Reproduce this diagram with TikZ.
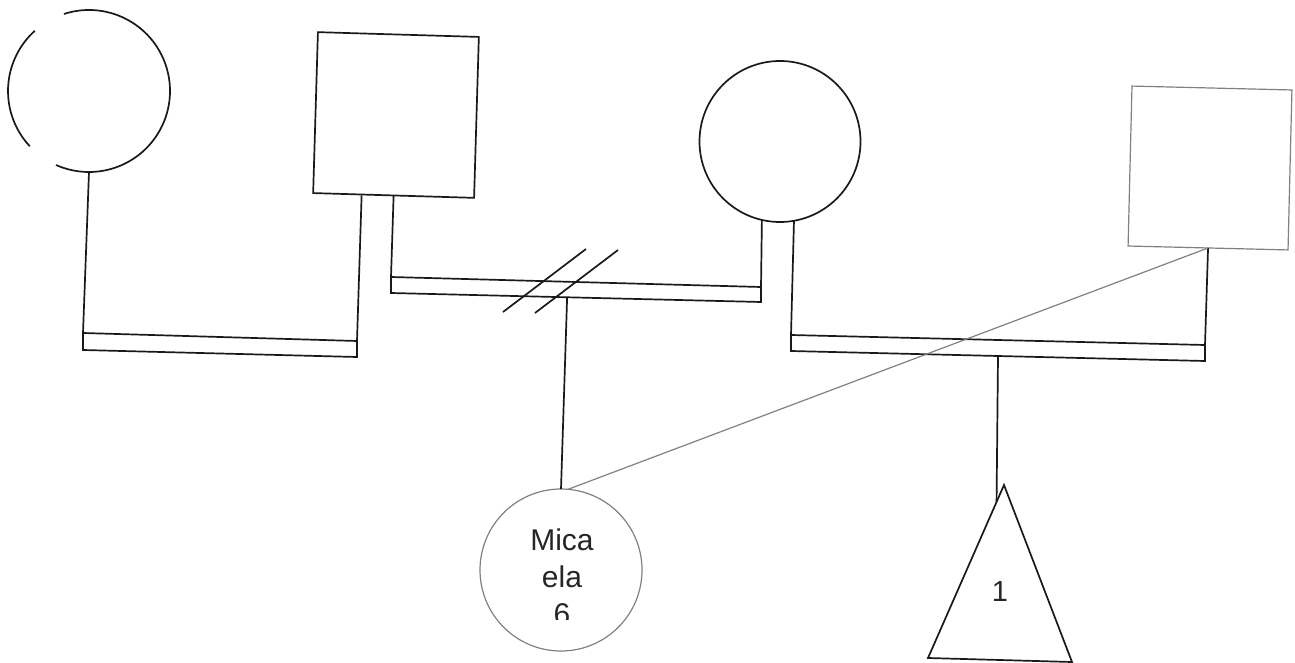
\documentclass[tikz,border=0pt]{standalone}
\usepackage{fontspec}
\setmainfont{Liberation Sans}
\usetikzlibrary{calc}
\begin{document}
\begin{tikzpicture}[x=1pt,y=1pt,yscale=-1,
  blk/.style={line width=1.7pt, draw=black!90},
  gry/.style={line width=1.2pt, draw=black!50},
  sq/.style={rectangle, minimum size=161pt, inner sep=0pt, outer sep=0pt},
  cir/.style={circle, inner sep=0pt, outer sep=0pt},
  lbl/.style={font=\fontsize{30}{37}\selectfont, text=black!85, align=center, inner sep=0pt}]
\useasboundingbox (0,0) rectangle (1295,663);
% first generation, left couple
\node[cir, minimum size=162pt] (c1) at (89,91) {};
\draw[blk] (c1.center) ++(-108:81) arc[start angle=-108, end angle=114, radius=81];
\draw[blk] (c1.center) ++(-132:81) arc[start angle=-132, end angle=-223, radius=81];
\node[sq, draw, blk, rotate=-1.7] (s1) at (396,115) {};
% middle circle and right square
\node[cir, draw, blk, minimum size=161pt] (c2) at (780,141.5) {};
\node[sq, draw, gry, minimum size=160pt, rotate=-1.4] (s2) at (1210,168) {};
% marriage bars
\coordinate (aTL) at (83,333); \coordinate (aTR) at (357,341);
\coordinate (aBR) at (357,357); \coordinate (aBL) at (83,350);
\draw[blk] (aTL) -- (aTR) -- (aBR) -- (aBL) -- cycle;
\coordinate (bTL) at (391,277); \coordinate (bTR) at (761,287);
\coordinate (bBR) at (761,302); \coordinate (bBL) at (391,293);
\draw[blk] (bTL) -- (bTR) -- (bBR) -- (bBL) -- cycle;
\coordinate (cTL) at (791,335); \coordinate (cTR) at (1205,345);
\coordinate (cBR) at (1205,361); \coordinate (cBL) at (791,351);
\draw[blk] (cTL) -- (cTR) -- (cBR) -- (cBL) -- cycle;
% connectors to bars
\draw[blk] (c1.south) -- (aTL);
\draw[blk] ([xshift=-32pt]s1.south) -- (aTR);
\draw[blk] (s1.south) -- (bTL);
\draw[blk] (c2.-103) -- (bTR);
\draw[blk] (c2.-80) -- (cTL);
\draw[blk] (s2.south) -- (cTR);
% divorce slashes
\coordinate (d1a) at (503,312); \coordinate (d1b) at (586,249);
\coordinate (d2a) at (535,313); \coordinate (d2b) at (618,250);
\draw[blk] (d1a) -- (d1b);
\draw[blk] (d2a) -- (d2b);
% children
\node[cir, draw, gry, minimum size=162pt] (m) at (561,570) {};
\begin{scope}
\clip (470,480) rectangle (660,619);
\node[lbl, anchor=base] (mt) at (562,624) {Mica\\ela\\6};
\end{scope}
\coordinate (bJ) at ($(bBL)!0.476!(bBR)$);
\draw[blk] (bJ) -- (m.north);
\coordinate (tA) at (1004,485); \coordinate (tBL) at (928,658); \coordinate (tBR) at (1072,662);
\draw[blk] (tA) -- (tBL) -- (tBR) -- cycle;
\node[lbl, font=\fontsize{29}{34}\selectfont] (tl) at (1000,592) {1};
\coordinate (cJ) at ($(cBL)!0.5!(cBR)$);
\coordinate (tJ) at ($(tA)!0.098!(tBL)$);
\draw[blk] (cJ) -- (tJ);
% extra line
\draw[gry] (s2.south) -- (m.85);
\end{tikzpicture}
\end{document}
